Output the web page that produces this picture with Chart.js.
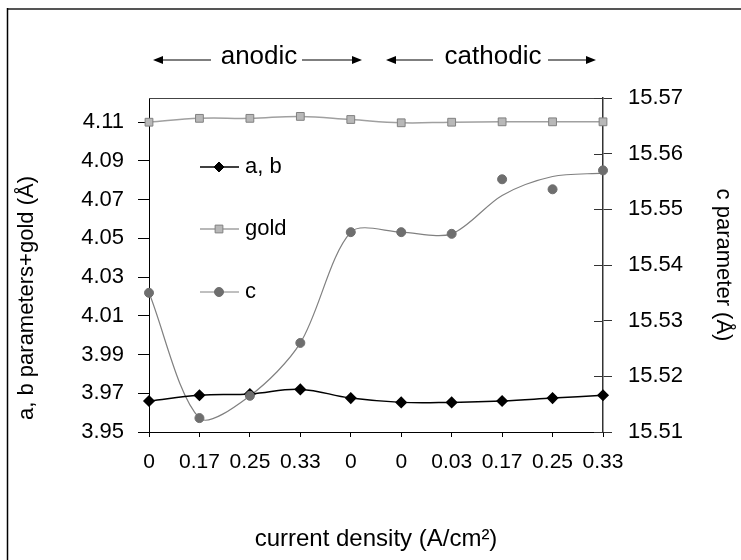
<!DOCTYPE html>
<html>
<head>
<meta charset="utf-8">
<script src="https://cdn.jsdelivr.net/npm/chart.js@4/dist/chart.umd.min.js"></script>
<style>
  html, body { margin: 0; padding: 0; background: #fff; }
  #wrap { width: 741px; height: 560px; position: relative; }
</style>
</head>
<body>
<div id="wrap"><canvas id="myChart" width="741" height="560"></canvas></div>
<script>
const categories = ['0', '0.17', '0.25', '0.33', '0', '0', '0.03', '0.17', '0.25', '0.33'];
const abValues = [3.966, 3.969, 3.9696, 3.972, 3.9675, 3.9653, 3.9653, 3.966, 3.9675, 3.969];
const goldValues = [4.110, 4.112, 4.112, 4.113, 4.1114, 4.1097, 4.110, 4.1102, 4.1102, 4.1102];
const cValues = [15.535, 15.5125, 15.5165, 15.526, 15.5459, 15.5459, 15.5456, 15.5554, 15.5536, 15.557];
// smoothed c line as drawn in the picture (does not go through the last points)
const cCurve = [15.535, 15.5125, 15.5165, 15.526, 15.5459, 15.5459, 15.5456, 15.5525, 15.5559, 15.5565];
const leftTicks = [3.95, 3.97, 3.99, 4.01, 4.03, 4.05, 4.07, 4.09, 4.11];
const rightTicks = [15.51, 15.52, 15.53, 15.54, 15.55, 15.56, 15.57];

const FONT = "'Liberation Sans', Arial, sans-serif";

function arrow(ctx, x1, x2, y) {
    // line from x1 to x2, head at x2
    const dir = x2 > x1 ? 1 : -1;
    ctx.beginPath();
    ctx.moveTo(x1, y);
    ctx.lineTo(x2 - dir * 6, y);
    ctx.stroke();
    ctx.beginPath();
    ctx.moveTo(x2, y);
    ctx.lineTo(x2 - dir * 10, y - 4);
    ctx.lineTo(x2 - dir * 10, y + 4);
    ctx.closePath();
    ctx.fill();
}

const extras = {
    id: 'extras',
    beforeDraw(chart) {
        const ctx = chart.ctx;
        ctx.save();
        // outer frame (top and left only)
        ctx.strokeStyle = '#555';
        ctx.lineWidth = 2;
        ctx.beginPath();
        ctx.moveTo(7, 9);
        ctx.lineTo(741, 9);
        ctx.stroke();
        ctx.strokeStyle = '#000';
        ctx.lineWidth = 1.5;
        ctx.beginPath();
        ctx.moveTo(7.5, 8);
        ctx.lineTo(7.5, 560);
        ctx.stroke();
        ctx.restore();
    },
    afterDraw(chart) {
        const ctx = chart.ctx;
        const area = chart.chartArea;
        const yc = chart.scales.yc;
        ctx.save();

        // top line of plot box
        ctx.strokeStyle = '#444';
        ctx.lineWidth = 1;
        ctx.beginPath();
        ctx.moveTo(area.left, area.top + 0.5);
        ctx.lineTo(area.right, area.top + 0.5);
        ctx.stroke();

        // inner half of the right axis ticks
        ctx.strokeStyle = '#333';
        rightTicks.forEach(v => {
            const y = Math.round(yc.getPixelForValue(v)) + 0.5;
            ctx.beginPath();
            ctx.moveTo(area.right - 9, y);
            ctx.lineTo(area.right, y);
            ctx.stroke();
        });

        // anodic / cathodic heading
        ctx.fillStyle = '#000';
        ctx.strokeStyle = '#000';
        ctx.lineWidth = 1.2;
        ctx.font = '26px ' + FONT;
        ctx.textBaseline = 'middle';
        ctx.textAlign = 'center';
        ctx.fillText('anodic', 259, 57);
        ctx.fillText('cathodic', 493, 57);
        arrow(ctx, 211, 153, 60);
        arrow(ctx, 302, 362, 60);
        arrow(ctx, 433, 386, 60);
        arrow(ctx, 548, 596, 60);

        // left axis title
        ctx.save();
        ctx.translate(27, 298);
        ctx.rotate(-Math.PI / 2);
        ctx.textAlign = 'center';
        ctx.font = '22px ' + FONT;
        ctx.fillText('a, b parameters+gold (Å)', 0, 0);
        ctx.restore();

        // legend inside the plot
        const items = [
            { label: 'a, b', ds: chart.data.datasets[0], y: 167 },
            { label: 'gold', ds: chart.data.datasets[1], y: 229 },
            { label: 'c', ds: chart.data.datasets[2], y: 292 }
        ];
        ctx.font = '22px ' + FONT;
        ctx.textAlign = 'left';
        items.forEach(it => {
            const lineColor = it.label === 'c' ? '#808080' : it.ds.borderColor;
            ctx.strokeStyle = lineColor;
            ctx.lineWidth = it.ds.borderWidth;
            ctx.beginPath();
            ctx.moveTo(200, it.y);
            ctx.lineTo(239, it.y);
            ctx.stroke();
            ctx.fillStyle = it.ds.pointBackgroundColor;
            ctx.strokeStyle = it.ds.pointBorderColor;
            ctx.lineWidth = 1;
            Chart.helpers.drawPoint(ctx, {
                pointStyle: it.ds.pointStyle,
                radius: it.ds.pointRadius,
                rotation: 0,
                borderWidth: 1
            }, 219, it.y);
            ctx.fillStyle = '#000';
            ctx.fillText(it.label, 245, it.y);
        });

        ctx.restore();
    }
};

const canvasGrafico = document.getElementById('myChart');

const grafico = new Chart(canvasGrafico, {
    type: 'line',
    data: {
        labels: categories,
        datasets: [
            {
                label: 'a, b',
                data: abValues,
                yAxisID: 'y',
                borderColor: '#000000',
                borderWidth: 1.5,
                pointStyle: 'rectRot',
                pointRadius: 5,
                pointBackgroundColor: '#000000',
                pointBorderColor: '#000000',
                tension: 0.4,
                clip: false,
                order: 1
            },
            {
                label: 'gold',
                data: goldValues,
                yAxisID: 'y',
                borderColor: '#a0a0a0',
                borderWidth: 1.5,
                pointStyle: 'rect',
                pointRadius: 5.5,
                pointBackgroundColor: '#b8b8b8',
                pointBorderColor: '#808080',
                pointBorderWidth: 1,
                tension: 0.4,
                clip: false,
                order: 2
            },
            {
                label: 'c',
                data: cValues,
                yAxisID: 'yc',
                showLine: false,
                borderColor: '#707070',
                borderWidth: 1,
                pointStyle: 'circle',
                pointRadius: 4.5,
                pointBackgroundColor: '#6e6e6e',
                pointBorderColor: '#6e6e6e',
                clip: false,
                order: 0
            },
            {
                label: 'c curve',
                data: cCurve,
                yAxisID: 'yc',
                borderColor: '#808080',
                borderWidth: 1.2,
                pointRadius: 0,
                tension: 0.3,
                clip: false,
                order: 3
            }
        ]
    },
    options: {
        responsive: false,
        animation: false,
        layout: {
            padding: { top: 98, left: 11, right: 3, bottom: 3 }
        },
        plugins: {
            legend: { display: false },
            tooltip: { enabled: false }
        },
        scales: {
            x: {
                type: 'category',
                offset: false,
                grid: {
                    drawOnChartArea: false,
                    drawTicks: true,
                    tickLength: 5,
                    color: '#000'
                },
                border: { color: '#000', width: 1 },
                ticks: {
                    color: '#000',
                    font: { family: FONT, size: 21 },
                    padding: 13,
                    maxRotation: 0,
                    autoSkip: false
                },
                title: {
                    display: true,
                    text: 'current density (A/cm²)',
                    color: '#000',
                    font: { family: FONT, size: 24 },
                    padding: { top: 4, bottom: 3 }
                },
                afterFit(scale) { scale.height = 125; }
            },
            y: {
                position: 'left',
                min: 3.95,
                max: 4.1225,
                grid: {
                    drawOnChartArea: false,
                    tickLength: 11,
                    color: '#000'
                },
                border: { color: '#000', width: 1 },
                afterBuildTicks(scale) {
                    scale.ticks = leftTicks.map(v => ({ value: v }));
                },
                ticks: {
                    color: '#000',
                    font: { family: FONT, size: 22 },
                    padding: 14,
                    callback: v => v.toFixed(2)
                },
                afterFit(scale) { scale.width = 138; }
            },
            yc: {
                position: 'right',
                min: 15.51,
                max: 15.57,
                grid: {
                    drawOnChartArea: false,
                    tickLength: 9,
                    color: '#333'
                },
                border: { color: '#333', width: 1.5 },
                afterBuildTicks(scale) {
                    scale.ticks = rightTicks.map(v => ({ value: v }));
                },
                ticks: {
                    color: '#000',
                    font: { family: FONT, size: 22 },
                    padding: 16,
                    callback: v => v.toFixed(2)
                },
                title: {
                    display: true,
                    text: 'c parameter (Å)',
                    color: '#000',
                    font: { family: FONT, size: 22 },
                    padding: { top: 2, bottom: 4 }
                },
                afterFit(scale) { scale.width = 135; }
            }
        }
    },
    plugins: [extras]
});
</script>
</body>
</html>
